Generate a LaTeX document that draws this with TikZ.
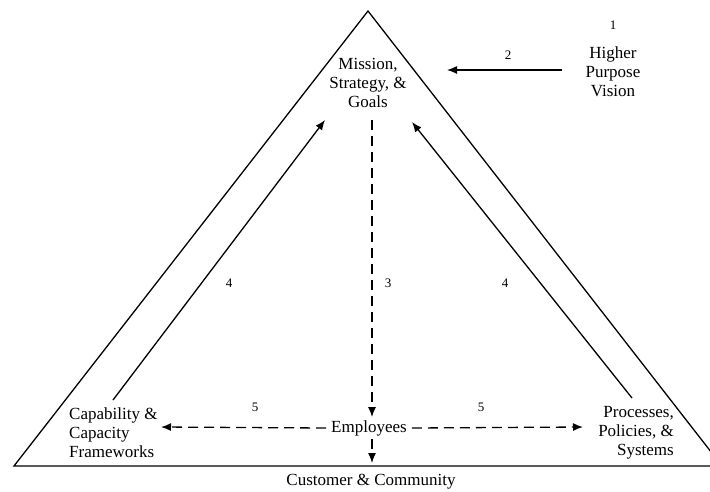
\documentclass[tikz,border=0pt]{standalone}
\usepackage{fontspec}
\setmainfont{Liberation Serif}
\usetikzlibrary{calc,arrows.meta}

\begin{document}
\begin{tikzpicture}[x=1pt,y=-1pt,
    label/.style={font=\fontsize{17}{19}\selectfont, align=center, inner sep=1pt},
    num/.style={font=\fontsize{13}{15}\selectfont, inner sep=1pt},
    flow/.style={-{Latex[length=10pt,width=8pt]}, line width=1.3pt},
    dflow/.style={-{Latex[length=10pt,width=8pt]}, line width=1.3pt, dash pattern=on 10pt off 6pt}
]

    % Frame
    \useasboundingbox (0,0) rectangle (710,491);
    \clip (0,0) rectangle (710,491);

    % Triangle
    \draw[line width=1.3pt] (368,11) -- (14,466) -- (722,466) -- cycle;

    % Labels
    \node[label] (MSG) at (368,83) {Mission,\\Strategy, \&\\Goals};
    \node[label] (HPV) at (613,72) {Higher\\Purpose\\Vision};
    \node[label, inner xsep=5pt, inner ysep=3pt] (EMP) at (369,428) {Employees};
    \node[label, align=left, anchor=west] (CCF) at (68,433) {Capability \&\\Capacity\\Frameworks};
    \node[label, align=right, anchor=east] (PPS) at (675,433) {Processes,\\Policies, \&\\Systems};
    \node[label] (CC) at (371,482) {Customer \& Community};
    \coordinate (TOP) at (372,120);
    \coordinate (BOT) at (372,463);
    \coordinate (HPVin) at (562,70);
    \coordinate (MSGin) at (447,70);

    % Numbers
    \node[num] (N1) at (613,25) {1};
    \node[num] (N2) at (508,55) {2};
    \node[num] (N3) at (388,283) {3};
    \node[num] (N4a) at (229,283) {4};
    \node[num] (N4b) at (505,283) {4};
    \node[num] (N5a) at (255,407) {5};
    \node[num] (N5b) at (481,407) {5};

    % Connectors
    \draw[flow] (HPVin) -- (MSGin);
    \draw[dflow] (TOP) -- (TOP |- EMP.north);
    \draw[dflow] (TOP |- EMP.south) -- (BOT);
    \draw[dflow] (EMP.west) -- (161,427);
    \draw[dflow] (EMP.east) -- (583,427);
    \draw[flow] (113,400) -- (325,120);
    \draw[flow] (632,398) -- (412,122);
\end{tikzpicture}
\end{document}
